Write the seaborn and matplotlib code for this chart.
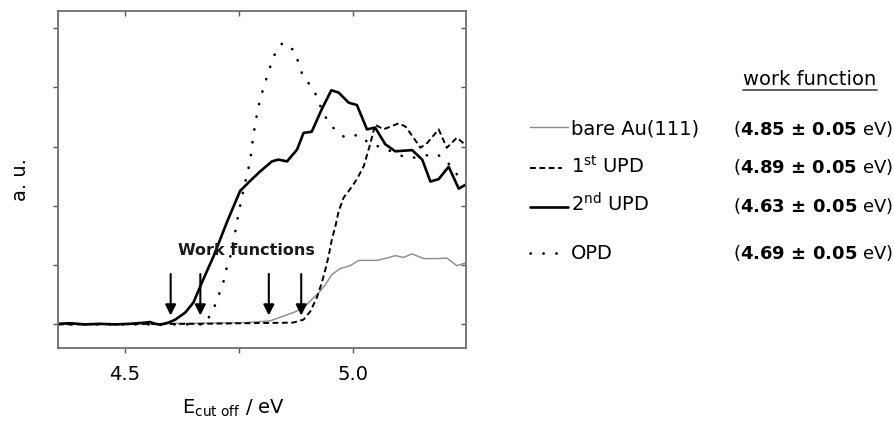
import numpy as np
import pandas as pd
import seaborn as sns
import matplotlib.pyplot as plt
from matplotlib.lines import Line2D
from matplotlib.ticker import MultipleLocator

# --- data (energy in eV, intensity in arbitrary units) ---
bare_e = [4.353, 4.664, 4.763, 4.818, 4.869, 4.891, 4.913, 4.924, 4.939, 4.953,
          4.971, 4.993, 5.012, 5.052, 5.074, 5.092, 5.110, 5.129, 5.154, 5.184,
          5.205, 5.227, 5.247]
bare_i = [0.0, 0.02, 0.03, 0.06, 0.20, 0.28, 0.45, 0.53, 0.67, 0.84,
          0.94, 0.99, 1.08, 1.08, 1.12, 1.16, 1.13, 1.19, 1.11, 1.11,
          1.12, 0.99, 1.04]

upd1_e = [4.353, 4.664, 4.868, 4.891, 4.906, 4.920, 4.931, 4.939, 4.946, 4.953,
          4.961, 4.968, 4.979, 4.993, 5.008, 5.023, 5.037, 5.048, 5.066, 5.099,
          5.114, 5.132, 5.147, 5.162, 5.187, 5.205, 5.227, 5.247]
upd1_i = [0.0, 0.01, 0.03, 0.08, 0.22, 0.45, 0.70, 0.93, 1.15, 1.43,
          1.66, 1.91, 2.14, 2.28, 2.45, 2.67, 3.04, 3.37, 3.29, 3.39,
          3.34, 3.15, 2.98, 3.06, 3.29, 2.98, 3.15, 3.02]

upd2_e = [4.353, 4.379, 4.412, 4.445, 4.478, 4.511, 4.544, 4.555, 4.566, 4.577,
          4.595, 4.610, 4.632, 4.650, 4.668, 4.694, 4.723, 4.752, 4.774, 4.796,
          4.822, 4.836, 4.855, 4.877, 4.891, 4.909, 4.931, 4.952, 4.968, 4.990,
          5.008, 5.030, 5.048, 5.070, 5.092, 5.129, 5.151, 5.169, 5.187, 5.209,
          5.231, 5.247]
upd2_i = [0.01, 0.02, 0.0, 0.01, 0.0, 0.01, 0.03, 0.04, 0.01, -0.005,
          0.03, 0.08, 0.20, 0.37, 0.70, 1.15, 1.72, 2.25, 2.42, 2.58,
          2.75, 2.78, 2.75, 2.95, 3.23, 3.25, 3.63, 3.95, 3.91, 3.74,
          3.70, 3.29, 3.32, 3.04, 2.92, 2.94, 2.78, 2.41, 2.45, 2.66,
          2.29, 2.36]

opd_e = [4.353, 4.675, 4.683, 4.697, 4.707, 4.716, 4.723, 4.732, 4.737, 4.743,
         4.748, 4.754, 4.767, 4.774, 4.781, 4.791, 4.798, 4.807, 4.816, 4.827,
         4.845, 4.871, 4.890, 4.913, 4.936, 4.957, 4.982, 5.012, 5.037, 5.066,
         5.096, 5.123, 5.182, 5.205, 5.227, 5.247]
opd_i = [0.0, 0.0, 0.11, 0.32, 0.53, 0.73, 0.96, 1.18, 1.40, 1.62,
         1.85, 2.07, 2.53, 2.74, 3.19, 3.63, 3.85, 4.08, 4.30, 4.54,
         4.75, 4.62, 4.18, 3.97, 3.53, 3.31, 3.15, 3.20, 3.04, 2.98,
         2.87, 2.80, 2.88, 2.75, 2.53, 2.41]

arrow_x = [4.60, 4.665, 4.815, 4.886]

series_names = ["bare Au(111)", "1$^{\\mathrm{st}}$ UPD", "2$^{\\mathrm{nd}}$ UPD", "OPD"]
wf_values = ["4.85", "4.89", "4.63", "4.69"]
wf_error = "0.05"

sns.set_style("ticks")
plt.rcParams["font.family"] = ["DejaVu Sans"]
plt.rcParams["mathtext.fontset"] = "dejavusans"
plt.rcParams["text.color"] = "black"
plt.rcParams["axes.labelcolor"] = "black"
plt.rcParams["xtick.labelcolor"] = "black"

fig = plt.figure(figsize=(8.95, 4.23), dpi=100)
ax = fig.add_axes([0.0652, 0.178, 0.4555, 0.7955])

styles = [
    dict(color="#8a8a8a", lw=1.0, linestyle="-"),
    dict(color="black", lw=1.4, linestyle=(0, (3, 1.8))),
    dict(color="black", lw=1.9, linestyle="-"),
    dict(color="black", lw=1.9, linestyle=(0, (0.1, 4.8)), dash_capstyle="round"),
]

data = [(bare_e, bare_i), (upd1_e, upd1_i), (upd2_e, upd2_i), (opd_e, opd_i)]
for (e, i), st in zip(data, styles):
    df = pd.DataFrame({"E": e, "I": i})
    sns.lineplot(data=df, x="E", y="I", ax=ax, estimator=None, sort=False, **st)

# arrows marking onset positions
for xa in arrow_x:
    ax.annotate("", xy=(xa, 0.15), xytext=(xa, 0.85),
                arrowprops=dict(arrowstyle="-|>", color="black", lw=1.5,
                                mutation_scale=16, shrinkA=0, shrinkB=0))
ax.text(4.765, 1.24, "Work functions", ha="center", va="center",
        fontsize=11.5, fontweight="bold", color="#1a1a1a")

ax.set_xlim(4.354, 5.247)
ax.set_ylim(-0.393, 5.283)
ax.xaxis.set_major_locator(MultipleLocator(0.5))
ax.xaxis.set_minor_locator(MultipleLocator(0.25))
ax.yaxis.set_major_locator(MultipleLocator(1))
ax.set_yticklabels([])
ax.xaxis.set_major_formatter(plt.FormatStrFormatter("%.1f"))

for s in ax.spines.values():
    s.set_color("#6e6e6e")
    s.set_linewidth(1.3)
ax.tick_params(axis="both", which="both", direction="out", length=3.5,
               width=1.0, color="#555555", labelsize=14, pad=9)

# inward ticks on the top/right frame
sec_y = ax.secondary_yaxis("right")
sec_y.yaxis.set_major_locator(MultipleLocator(1))
sec_y.tick_params(direction="in", length=3.5, width=1.0, color="#555555", labelright=False)
sec_x = ax.secondary_xaxis("top")
sec_x.xaxis.set_major_locator(MultipleLocator(0.5))
sec_x.xaxis.set_minor_locator(MultipleLocator(0.25))
sec_x.tick_params(which="both", direction="in", length=3.5, width=1.0, color="#555555", labeltop=False)
for sp in list(sec_y.spines.values()) + list(sec_x.spines.values()):
    sp.set_visible(False)

ax.set_xlabel("E$_{\\mathrm{cut\\ off}}$ / eV", fontsize=14)
ax.xaxis.set_label_coords(0.43, -0.15)
ax.set_ylabel("a. u.", fontsize=14)
ax.yaxis.set_label_coords(-0.07, 0.5)

# legend drawn at the right side
title = fig.text(0.905, 0.80, "work function", ha="center", va="baseline", fontsize=14)
fig.canvas.draw()
bb = title.get_window_extent(fig.canvas.get_renderer()).transformed(fig.transFigure.inverted())
fig.add_artist(Line2D([bb.x0, bb.x1], [0.788, 0.788], transform=fig.transFigure,
                      color="#444444", lw=1.2))

row_y = [0.682, 0.591, 0.500, 0.388]
line_y = [0.699, 0.602, 0.511, 0.403]
line_end = [0.635, 0.628, 0.635, 0.626]
for k in range(4):
    fig.add_artist(Line2D([0.592, line_end[k]], [line_y[k], line_y[k]],
                          transform=fig.transFigure, **styles[k]))
    fig.text(0.638, row_y[k], series_names[k], ha="left", va="baseline", fontsize=14)
    fig.text(0.819, row_y[k],
             "($\\mathbf{" + wf_values[k] + "\\,\\pm\\," + wf_error + "}$ eV)",
             ha="left", va="baseline", fontsize=13)

fig.savefig("out.png", dpi=100)
